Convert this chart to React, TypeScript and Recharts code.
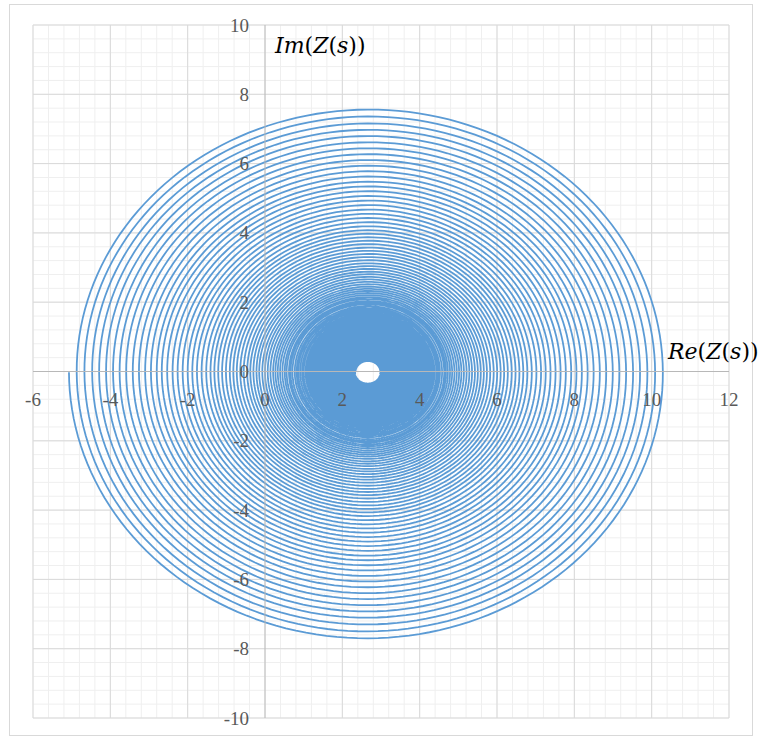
import { LineChart, Line, XAxis, YAxis, ReferenceLine, ReferenceDot } from "recharts";

const X_TICKS = [-6, -4, -2, 0, 2, 4, 6, 8, 10, 12];
const Y_TICKS = [-10, -8, -6, -4, -2, 0, 2, 4, 6, 8, 10];

// Centre the spiral winds in towards
const CENTRE_RE = 2.66;
const CENTRE_IM = -0.02;

// Radius of every turn, taken where the curve crosses the real axis on the left
const TURN_RADIUS = [
  7.73, 7.53, 7.33, 7.13, 6.95, 6.77, 6.59, 6.42, 6.25, 6.08,
  5.92, 5.76, 5.61, 5.46, 5.33, 5.19, 5.05, 4.92, 4.79, 4.66,
  4.54, 4.42, 4.30, 4.18, 4.07, 3.97, 3.87, 3.77, 3.67, 3.57,
  3.48, 3.39, 3.30, 3.21, 3.12, 3.04, 2.96, 2.88, 2.81, 2.73,
  2.66, 2.59, 2.52, 2.45, 2.39, 2.33, 2.27, 2.21, 2.15, 2.10,
  2.04, 2.0, 1.95, 1.89, 1.84, 1.8, 1.75, 1.7, 1.66, 1.61,
  1.57, 1.53, 1.49, 1.45, 1.41, 1.38, 1.34, 1.3, 1.27, 1.24,
  1.2, 1.17, 1.14, 1.11, 1.08, 1.05, 1.03, 1.0, 0.97, 0.95,
  0.92, 0.9, 0.87, 0.85, 0.83, 0.81, 0.79, 0.77, 0.75, 0.73,
  0.71, 0.69, 0.67, 0.65, 0.64, 0.62, 0.6, 0.59, 0.57, 0.56,
  0.54, 0.53, 0.51, 0.5, 0.49, 0.47, 0.46, 0.45, 0.44, 0.43,
  0.41, 0.4, 0.39, 0.38, 0.37, 0.36, 0.35, 0.34, 0.33, 0.33,
  0.32,
];

const STEPS_PER_TURN = 180;

type Pt = { re: number; im: number };

// walk the turns counter-clockwise, starting on the left and heading down
function buildSpiral(): Pt[] {
  const pts: Pt[] = [];
  for (let n = 0; n < TURN_RADIUS.length - 1; n++) {
    const r0 = TURN_RADIUS[n];
    const r1 = TURN_RADIUS[n + 1];
    for (let k = 0; k < STEPS_PER_TURN; k++) {
      const f = k / STEPS_PER_TURN;
      const r = r0 * Math.pow(r1 / r0, f);
      const a = Math.PI + 2 * Math.PI * f;
      pts.push({ re: CENTRE_RE + r * Math.cos(a), im: CENTRE_IM + r * Math.sin(a) });
    }
  }
  const last = TURN_RADIUS[TURN_RADIUS.length - 1];
  pts.push({ re: CENTRE_RE - last, im: CENTRE_IM });
  return pts;
}

const spiral = buildSpiral();

const steps = (from: number, to: number, step: number) =>
  Array.from({ length: Math.round((to - from) / step) + 1 }, (_, i) =>
    Math.round((from + i * step) * 10) / 10,
  );

const minorX = steps(-6, 12, 0.4);
const minorY = steps(-10, 10, 0.4);

const tickStyle = {
  fontFamily: "'Liberation Serif', serif",
  fontSize: 19,
  fill: "#595959",
};

const mathFont = "'DejaVu Serif', serif";

function MathLabel({ parts, left, top }: { parts: [string, boolean][]; left: number; top: number }) {
  return (
    <div
      style={{
        position: "absolute",
        left,
        top,
        fontFamily: mathFont,
        fontSize: 22,
        lineHeight: "26px",
        color: "#000",
        whiteSpace: "nowrap",
      }}
    >
      {parts.map(([t, it], i) => (
        <span key={i} style={{ fontStyle: it ? "italic" : "normal" }}>
          {t}
        </span>
      ))}
    </div>
  );
}

export default function App() {
  return (
    <div style={{ position: "absolute", left: 0, top: 0, width: 761, height: 740, background: "#fff" }}>
      <div
        style={{
          position: "absolute",
          left: 9,
          top: 4,
          width: 742,
          height: 730,
          border: "1px solid #d9d9d9",
        }}
      />
      <div style={{ position: "absolute", left: 0, top: 0 }}>
        <LineChart
          width={761}
          height={740}
          data={spiral}
          margin={{ top: 25, right: 32, bottom: 22, left: 33 }}
        >
          <XAxis type="number" dataKey="re" domain={[-6, 12]} ticks={X_TICKS} hide />
          <YAxis type="number" domain={[-10, 10]} ticks={Y_TICKS} hide />

          {minorX.map((v) => (
            <ReferenceLine key={`mx${v}`} x={v} stroke="#efefef" strokeWidth={1} />
          ))}
          {minorY.map((v) => (
            <ReferenceLine key={`my${v}`} y={v} stroke="#efefef" strokeWidth={1} />
          ))}
          {X_TICKS.filter((v) => v !== 0).map((v) => (
            <ReferenceLine key={`gx${v}`} x={v} stroke="#d9d9d9" strokeWidth={1} />
          ))}
          {Y_TICKS.filter((v) => v !== 0).map((v) => (
            <ReferenceLine key={`gy${v}`} y={v} stroke="#d9d9d9" strokeWidth={1} />
          ))}

          <Line
            dataKey="im"
            type="linear"
            stroke="#5b9bd5"
            strokeWidth={1.8}
            dot={false}
            activeDot={false}
            isAnimationActive={false}
          />

          <ReferenceLine x={0} stroke="#b8b8b8" strokeWidth={1} />
          <ReferenceLine y={0} stroke="#b8b8b8" strokeWidth={1} />

          {X_TICKS.map((v) => (
            <ReferenceDot
              key={`lx${v}`}
              x={v}
              y={0}
              r={0}
              shape={(p: any) => (
                <text x={p.cx} y={p.cy + 34} textAnchor="middle" style={tickStyle}>
                  {v}
                </text>
              )}
            />
          ))}
          {Y_TICKS.map((v) => (
            <ReferenceDot
              key={`ly${v}`}
              x={0}
              y={v}
              r={0}
              shape={(p: any) => (
                <text x={p.cx - 16} y={p.cy + 6.5} textAnchor="end" style={tickStyle}>
                  {v}
                </text>
              )}
            />
          ))}
        </LineChart>
      </div>
      <MathLabel
        left={275}
        top={33}
        parts={[["Im", true], ["(", false], ["Z", true], ["(", false], ["s", true], ["))", false]]}
      />
      <MathLabel
        left={668}
        top={339}
        parts={[["Re", true], ["(", false], ["Z", true], ["(", false], ["s", true], ["))", false]]}
      />
    </div>
  );
}
